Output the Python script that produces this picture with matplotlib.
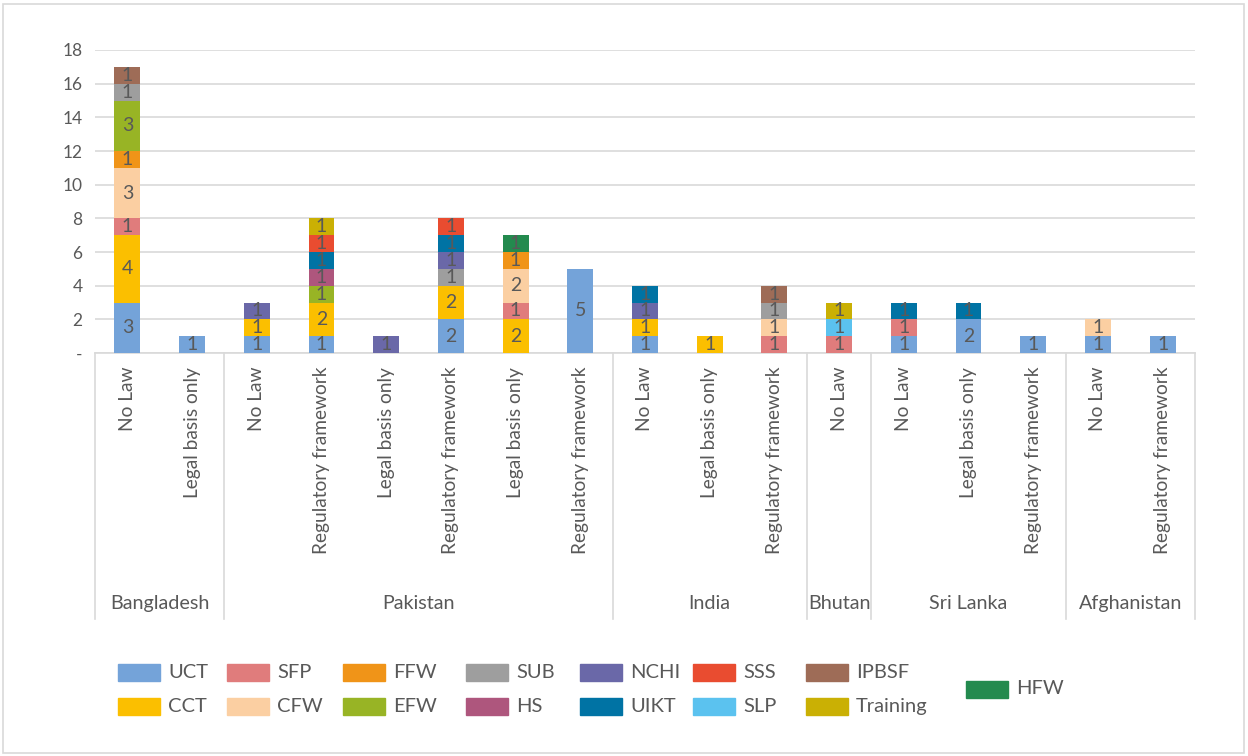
import matplotlib
matplotlib.use("Agg")
import matplotlib.pyplot as plt
from matplotlib.patches import Rectangle
from matplotlib.lines import Line2D

plt.rcParams['font.family'] = ['Lato', 'DejaVu Sans']

# Sub-categories (legal status) in drawing order, with their country groups
categories = ["No Law", "Legal basis only",
              "No Law", "Regulatory framework", "Legal basis only",
              "Regulatory framework", "Legal basis only", "Regulatory framework",
              "No Law", "Legal basis only", "Regulatory framework",
              "No Law",
              "No Law", "Legal basis only", "Regulatory framework",
              "No Law", "Regulatory framework"]
groups = ["Bangladesh", "Pakistan", "India", "Bhutan", "Sri Lanka", "Afghanistan"]
group_sizes = [2, 6, 3, 1, 3, 2]

# Number of programmes per type
UCT = [3, 1, 1, 1, 0, 2, 0, 5, 1, 0, 0, 0, 1, 2, 1, 1, 1]
CCT = [4, 0, 1, 2, 0, 2, 2, 0, 1, 1, 0, 0, 0, 0, 0, 0, 0]
SFP = [1, 0, 0, 0, 0, 0, 1, 0, 0, 0, 1, 1, 1, 0, 0, 0, 0]
CFW = [3, 0, 0, 0, 0, 0, 2, 0, 0, 0, 1, 0, 0, 0, 0, 1, 0]
FFW = [1, 0, 0, 0, 0, 0, 1, 0, 0, 0, 0, 0, 0, 0, 0, 0, 0]
EFW = [3, 0, 0, 1, 0, 0, 0, 0, 0, 0, 0, 0, 0, 0, 0, 0, 0]
SUB = [1, 0, 0, 0, 0, 1, 0, 0, 0, 0, 1, 0, 0, 0, 0, 0, 0]
HS = [0, 0, 0, 1, 0, 0, 0, 0, 0, 0, 0, 0, 0, 0, 0, 0, 0]
NCHI = [0, 0, 1, 0, 1, 1, 0, 0, 1, 0, 0, 0, 0, 0, 0, 0, 0]
UIKT = [0, 0, 0, 1, 0, 1, 0, 0, 1, 0, 0, 0, 1, 1, 0, 0, 0]
SSS = [0, 0, 0, 1, 0, 1, 0, 0, 0, 0, 0, 0, 0, 0, 0, 0, 0]
SLP = [0, 0, 0, 0, 0, 0, 0, 0, 0, 0, 0, 1, 0, 0, 0, 0, 0]
IPBSF = [1, 0, 0, 0, 0, 0, 0, 0, 0, 0, 1, 0, 0, 0, 0, 0, 0]
Training = [0, 0, 0, 1, 0, 0, 0, 0, 0, 0, 0, 1, 0, 0, 0, 0, 0]
HFW = [0, 0, 0, 0, 0, 0, 1, 0, 0, 0, 0, 0, 0, 0, 0, 0, 0]

series = [
    ("UCT", UCT, "#74A3D9"),
    ("CCT", CCT, "#FBBF00"),
    ("SFP", SFP, "#E07C7C"),
    ("CFW", CFW, "#FBCFA2"),
    ("FFW", FFW, "#F09418"),
    ("EFW", EFW, "#98B425"),
    ("SUB", SUB, "#9E9E9E"),
    ("HS", HS, "#AE567D"),
    ("NCHI", NCHI, "#6A68A8"),
    ("UIKT", UIKT, "#0073A4"),
    ("SSS", SSS, "#E94C30"),
    ("SLP", SLP, "#5BC2EF"),
    ("IPBSF", IPBSF, "#9E6C57"),
    ("Training", Training, "#CAB004"),
    ("HFW", HFW, "#238A4E"),
]

TEXT = "#595959"
GRID = "#D9D9D9"
W, H = 1248, 756

fig = plt.figure(figsize=(W / 100, H / 100), dpi=100)
ax = fig.add_axes([95 / W, (H - 353) / H, 1100 / W, 303 / H])

x = list(range(len(categories)))
bottom = [0] * len(categories)
for name, vals, color in series:
    ax.bar(x, vals, width=0.4, bottom=bottom, color=color, zorder=3)
    for xi, v, b in zip(x, vals, bottom):
        if v:
            ax.text(xi, b + v / 2, str(v), ha="center", va="center",
                    fontsize=14, color=TEXT, zorder=4)
    bottom = [b + v for b, v in zip(bottom, vals)]

ax.set_xlim(-0.5, len(categories) - 0.5)
ax.set_ylim(0, 18)
yt = list(range(0, 19, 2))
ax.set_yticks(yt)
ax.set_yticklabels(["-" if t == 0 else str(t) for t in yt], fontsize=12.5, color=TEXT)
ax.tick_params(axis="y", length=0, pad=9)
ax.yaxis.grid(True, color=GRID, linewidth=1.2, zorder=0)
ax.set_axisbelow(True)

ax.set_xticks(x)
ax.set_xticklabels(categories, rotation=90, fontsize=13.8, color=TEXT)
ax.tick_params(axis="x", length=0, pad=10)

for s in ["top", "right", "left"]:
    ax.spines[s].set_visible(False)
ax.spines["bottom"].set_color(GRID)
ax.spines["bottom"].set_linewidth(1.2)

# Country group labels and separators under the category axis
trans = ax.get_xaxis_transform()
sep_bottom = (353 - 619) / 303
label_y = (353 - 603) / 303
start = 0
edges = [-0.5]
for g, n in zip(groups, group_sizes):
    centre = start + (n - 1) / 2
    ax.text(centre, label_y, g, transform=trans, ha="center", va="center",
            fontsize=14.2, color=TEXT)
    start += n
    edges.append(start - 0.5)
for e in edges:
    ax.add_line(Line2D([e, e], [0, sep_bottom], transform=trans, color=GRID,
                       linewidth=1.2, clip_on=False))

# Legend: two rows, column-major, with the last entry on its own
col_x = [118, 227, 343, 466, 580, 693, 806]
row_y = [672.5, 706.5]
entries = []
for i, (name, vals, color) in enumerate(series[:-1]):
    entries.append((col_x[i // 2], row_y[i % 2], name, color))
entries.append((966, 689, series[-1][0], series[-1][2]))
pw, ph = 42, 17
for px, py, name, color in entries:
    fig.add_artist(Rectangle((px / W, (H - py - ph / 2) / H), pw / W, ph / H,
                             transform=fig.transFigure, color=color))
    fig.text((px + pw + 8) / W, (H - py) / H, name, ha="left", va="center",
             fontsize=14.5, color=TEXT)

# Chart border
fig.add_artist(Rectangle((3 / W, 3 / H), (W - 7) / W, (H - 7) / H,
                         transform=fig.transFigure, fill=False,
                         edgecolor=GRID, linewidth=1.2))

fig.savefig("out.png", dpi=100)
